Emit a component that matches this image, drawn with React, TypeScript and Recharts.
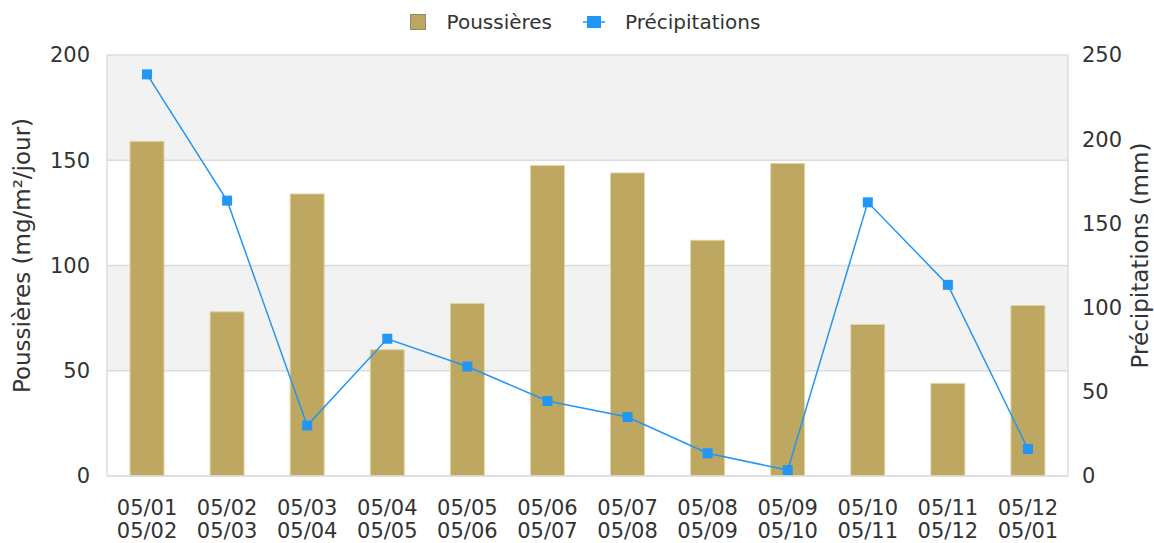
import React from "react"
import {
  Bar,
  CartesianGrid,
  ComposedChart,
  Legend,
  Line,
  XAxis,
  YAxis,
} from "recharts"

const periods = [
  "05/01\n05/02",
  "05/02\n05/03",
  "05/03\n05/04",
  "05/04\n05/05",
  "05/05\n05/06",
  "05/06\n05/07",
  "05/07\n05/08",
  "05/08\n05/09",
  "05/09\n05/10",
  "05/10\n05/11",
  "05/11\n05/12",
  "05/12\n05/01",
]
const poussieres = [159, 78, 134, 60, 82, 147.5, 144, 112, 148.5, 72, 44, 81]
const precipitations = [238.5, 163.5, 30, 81.5, 65, 44.5, 35, 13.5, 3.5, 162.5, 113.5, 16]
const leftTicks = [0, 50, 100, 150, 200]
const rightTicks = [0, 50, 100, 150, 200, 250]

const data = periods.map((label, i) => ({
  label,
  poussieres: poussieres[i],
  precipitations: precipitations[i],
}))

const FONT = "'DejaVu Sans', sans-serif"
const TEXT = "#333"
const GOLD = "#bea760"
const BLUE = "#2196f3"
const GRID = "#dcdcdc"

function PeriodTick({ x, y, payload }: any) {
  const [a, b] = String(payload.value).split("\n")
  return (
    <text x={x} y={y} textAnchor="middle" fill={TEXT} fontSize={21} fontFamily={FONT}>
      <tspan x={x} dy={39}>{a}</tspan>
      <tspan x={x} dy={23}>{b}</tspan>
    </text>
  )
}

function SquareDot({ cx, cy }: any) {
  if (cx == null || cy == null) return null
  return <rect x={cx - 5} y={cy - 5} width={10} height={10} fill={BLUE} />
}

function AxisTitle({ viewBox, value, side }: any) {
  const x = side === "left" ? viewBox.x + 22 : viewBox.x + viewBox.width - 14
  const y = viewBox.y + viewBox.height / 2 - 10
  return (
    <text
      x={x}
      y={y}
      transform={`rotate(-90, ${x}, ${y})`}
      textAnchor="middle"
      dominantBaseline="central"
      fill={TEXT}
      fontSize={23}
      fontFamily={FONT}
    >
      {value}
    </text>
  )
}

function LegendBox() {
  return (
    <div
      style={{
        height: 55,
        display: "flex",
        justifyContent: "center",
        alignItems: "flex-start",
        fontFamily: FONT,
        fontSize: 20,
        color: TEXT,
      }}
    >
      <div style={{ display: "flex", alignItems: "center", height: 44, marginLeft: 16 }}>
        <svg width={16} height={16} style={{ marginRight: 21 }}>
          <rect x={0.5} y={0.5} width={15} height={15} fill={GOLD} stroke="#8f8a70" />
        </svg>
        <span>Poussières</span>
        <svg width={22} height={14} style={{ marginLeft: 31, marginRight: 20 }}>
          <line x1={0} y1={7} x2={22} y2={7} stroke={BLUE} strokeWidth={1.5} />
          <rect x={4} y={1} width={14} height={12} fill={BLUE} />
        </svg>
        <span>Précipitations</span>
      </div>
    </div>
  )
}

export default function App() {
  return (
    <div style={{ position: "absolute", left: 0, top: 0, background: "#fff" }}>
      <ComposedChart
        width={1154}
        height={543}
        data={data}
        margin={{ top: 0, right: 0, bottom: 0, left: 0 }}
      >
        <Legend verticalAlign="top" align="center" content={() => <LegendBox />} />
        <CartesianGrid
          yAxisId="left"
          vertical={false}
          stroke={GRID}
          strokeWidth={1.5}
          horizontalFill={["#f2f2f2", "#ffffff"]}
          fillOpacity={1}
        />
        <XAxis
          dataKey="label"
          interval={0}
          height={67}
          tickLine={false}
          tickSize={0}
          tickMargin={0}
          axisLine={{ stroke: GRID, strokeWidth: 1.5 }}
          tick={<PeriodTick />}
        />
        <YAxis
          yAxisId="left"
          width={107}
          domain={[0, 200]}
          ticks={leftTicks}
          tickLine={false}
          tickSize={0}
          tickMargin={17}
          axisLine={{ stroke: GRID, strokeWidth: 1.5 }}
          tick={{ fill: TEXT, fontSize: 21, fontFamily: FONT }}
          label={<AxisTitle side="left" value="Poussières (mg/m²/jour)" />}
        />
        <YAxis
          yAxisId="right"
          orientation="right"
          width={86}
          domain={[0, 250]}
          ticks={rightTicks}
          tickLine={false}
          tickSize={0}
          tickMargin={14}
          axisLine={{ stroke: GRID, strokeWidth: 1.5 }}
          tick={{ fill: TEXT, fontSize: 21, fontFamily: FONT }}
          label={<AxisTitle side="right" value="Précipitations (mm)" />}
        />
        <Bar
          yAxisId="left"
          dataKey="poussieres"
          name="Poussières"
          barSize={34}
          fill={GOLD}
          stroke="#e2d5a6"
          strokeWidth={1}
          isAnimationActive={false}
        />
        <Line
          yAxisId="right"
          type="linear"
          dataKey="precipitations"
          name="Précipitations"
          stroke={BLUE}
          strokeWidth={1.5}
          dot={<SquareDot />}
          activeDot={false}
          isAnimationActive={false}
        />
      </ComposedChart>
    </div>
  )
}
